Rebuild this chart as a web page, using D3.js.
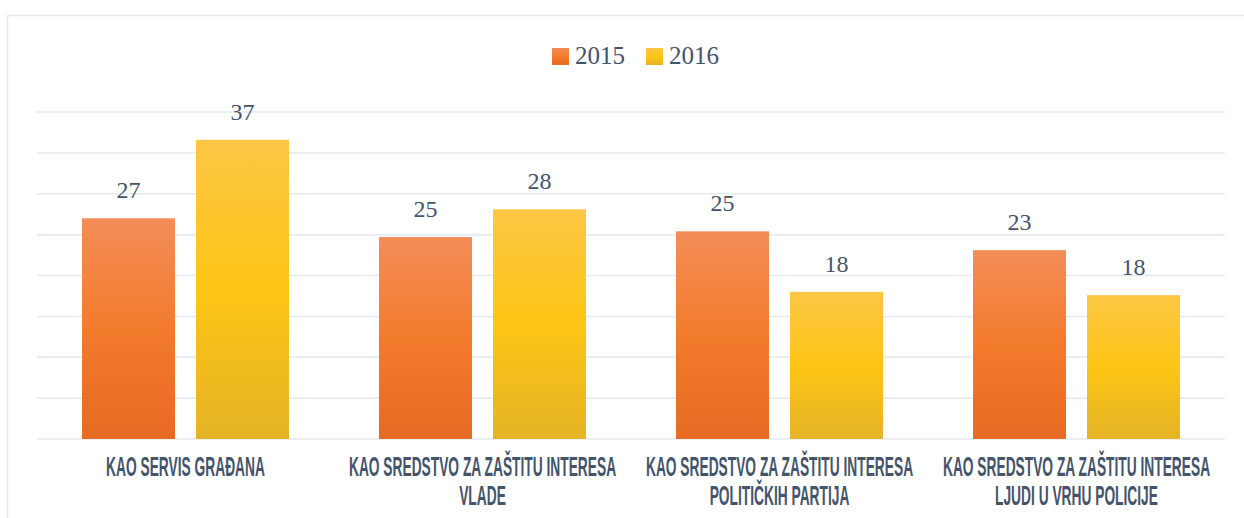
<!DOCTYPE html>
<html lang="en">
<head>
    <meta charset="UTF-8">
    <title>Chart</title>
    <style>
        body { margin: 0; background: #fff; }
        svg { display: block; }
    </style>
</head>
<body>
    <svg id="chart"></svg>
    <script src="https://d3js.org/d3.v7.min.js"></script>
    <script>
    // categories, one entry per line of the axis label
    const categories = ["gradjana", "vlade", "partija", "policija"];
    const category_lines = [
        ["KAO SERVIS GRAĐANA"],
        ["KAO SREDSTVO ZA ZAŠTITU INTERESA", "VLADE"],
        ["KAO SREDSTVO ZA ZAŠTITU INTERESA", "POLITIČKIH PARTIJA"],
        ["KAO SREDSTVO ZA ZAŠTITU INTERESA", "LJUDI U VRHU POLICIJE"]
    ];
    const years = ["2015", "2016"];
    const values_2015 = [27.0, 24.7, 25.4, 23.1];
    const values_2016 = [36.6, 28.1, 18.0, 17.6];
    const y_ticks = [0, 5, 10, 15, 20, 25, 30, 35, 40];

    const width = 1244, height = 518;
    const text_color = "#44546a";

    const svg = d3.select("#chart").attr("width", width).attr("height", height);

    // gradients for the bars
    const defs = svg.append("defs");
    const grads = {
        "2015": [["0%", "#f38d58"], ["50%", "#f37b2c"], ["100%", "#e76a22"]],
        "2016": [["0%", "#fdc746"], ["50%", "#fdc514"], ["100%", "#e5b426"]]
    };
    Object.entries(grads).forEach(([key, stops]) => {
        let g = defs.append("linearGradient")
            .attr("id", "grad_" + key)
            .attr("x1", 0).attr("y1", 0).attr("x2", 0).attr("y2", 1);
        stops.forEach(s => g.append("stop").attr("offset", s[0]).attr("stop-color", s[1]));
    });

    // chart frame (runs off the right and bottom edge)
    svg.append("rect")
        .attr("x", 7.5).attr("y", 15.5)
        .attr("width", 1300).attr("height", 600)
        .attr("fill", "none")
        .attr("stroke", "#e3e7ee")
        .attr("stroke-width", 1.5);

    const x0 = d3.scaleBand()
        .domain(categories)
        .range([37, 1225]);

    const x1 = d3.scaleBand()
        .domain(years)
        .range([0, x0.bandwidth()])
        .paddingInner(0.184)
        .paddingOuter(0.395);

    const y = d3.scaleLinear()
        .domain([0, 40])
        .range([439, 112]);

    // gridlines
    svg.append("g")
        .selectAll("line")
        .data(y_ticks)
        .join("line")
            .attr("x1", 37).attr("x2", 1225)
            .attr("y1", d => y(d)).attr("y2", d => y(d))
            .attr("stroke", "#e4e8ef")
            .attr("stroke-width", 1.5);

    const rows = categories.map((c, i) => ({
        cat: c,
        vals: [
            {year: "2015", v: values_2015[i]},
            {year: "2016", v: values_2016[i]}
        ]
    }));

    const groups = svg.append("g")
        .selectAll("g")
        .data(rows)
        .join("g")
            .attr("transform", d => "translate(" + x0(d.cat) + ",0)");

    groups.selectAll("rect")
        .data(d => d.vals)
        .join("rect")
            .attr("x", d => x1(d.year))
            .attr("y", d => y(d.v))
            .attr("width", x1.bandwidth())
            .attr("height", d => y(0) - y(d.v))
            .attr("fill", d => "url(#grad_" + d.year + ")");

    let fmt = d3.format(".0f");
    groups.selectAll("text.val")
        .data(d => d.vals)
        .join("text")
            .attr("class", "val")
            .attr("x", d => x1(d.year) + x1.bandwidth() / 2)
            .attr("y", d => y(d.v) - 20)
            .attr("text-anchor", "middle")
            .style("font-family", "'Liberation Serif', serif")
            .style("font-size", "24px")
            .style("fill", text_color)
            .text(d => fmt(d.v));

    // category labels, condensed bold caps
    const sx = 0.51;
    const cat_labels = svg.append("g")
        .selectAll("text")
        .data(categories)
        .join("text")
            .attr("transform", d => "translate(" + (x0(d) + x0.bandwidth() / 2) + ",476) scale(" + sx + ",1)")
            .attr("text-anchor", "middle")
            .style("font-family", "'Liberation Sans Narrow', 'Liberation Sans', sans-serif")
            .style("font-weight", "bold")
            .style("font-size", "27px")
            .style("fill", text_color);

    cat_labels.selectAll("tspan")
        .data((d, i) => category_lines[i])
        .join("tspan")
            .attr("x", 0)
            .attr("dy", (d, i) => i === 0 ? 0 : 29)
            .text(d => d);

    // legend
    const legend = svg.append("g")
        .selectAll("g")
        .data(years)
        .join("g")
            .attr("transform", (d, i) => "translate(" + (552 + i * 94) + ",48)");

    legend.append("rect")
        .attr("width", 17).attr("height", 17)
        .attr("fill", d => "url(#grad_" + d + ")");

    legend.append("text")
        .attr("x", 23).attr("y", 16)
        .style("font-family", "'Liberation Serif', serif")
        .style("font-size", "25px")
        .style("fill", text_color)
        .text(d => d);
    </script>
</body>
</html>
